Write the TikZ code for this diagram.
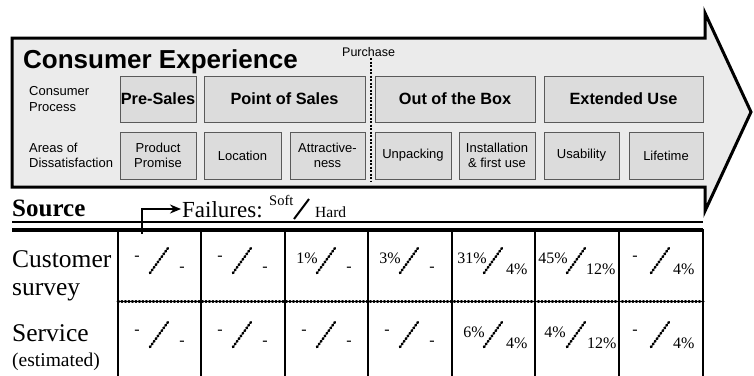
\documentclass[tikz,border=0pt]{standalone}
\usepackage{fontspec}
\setmainfont{Liberation Serif}
\newfontfamily\sansf{Liberation Sans}
\usetikzlibrary{arrows.meta}
\definecolor{bodygray}{HTML}{EBEBEB}
\definecolor{boxgray}{HTML}{DCDCDC}
\definecolor{edgegray}{HTML}{5A5A5A}
\newcommand{\fs}[1]{\fontsize{#1}{1.18\dimexpr#1pt\relax}\selectfont}
\tikzset{
  procbox/.style={draw=edgegray, fill=boxgray, line width=0.9pt, inner sep=0pt,
    minimum height=46pt, font=\sansf\bfseries\fs{16.3}},
  areabox/.style={draw=edgegray, fill=boxgray, line width=0.9pt, inner sep=0pt,
    minimum height=47pt, align=center, font=\sansf\fontsize{13}{15.5}\selectfont},
  sidelabel/.style={anchor=west, align=left, inner sep=0pt, font=\sansf\fontsize{13}{15.5}\selectfont},
  rowlabel/.style={anchor=base west, inner sep=0pt},
  gridline/.style={line width=2.5pt},
  dotline/.style={line width=3pt, line cap=round, dash pattern=on 0.8pt off 2.7pt},
  cellslash/.style={line width=2.6pt, line cap=round, dash pattern=on 0.9pt off 2.4pt},
  cellval/.style={inner sep=0pt, font=\fs{16}},
}
\begin{document}
\begin{tikzpicture}[x=1pt, y=-1pt]
\useasboundingbox (0,0) rectangle (754,375);

% big process arrow
\draw[line width=3pt, fill=bodygray, line join=miter]
  (12,38) -- (705,38) -- (705,13) -- (751,112) -- (705,211) -- (705,187) -- (12,187) -- cycle;

\node[anchor=base west, inner sep=0pt, font=\sansf\bfseries\fs{26}] (title) at (23,68) {Consumer Experience};
\node[anchor=base west, inner sep=0pt, font=\sansf\fs{12.5}] (purchase) at (342,56) {Purchase};
\coordinate (purchtop) at (371,58);
\coordinate (purchbot) at (371,181);
\draw[line width=1.6pt, dash pattern=on 2pt off 1.5pt] (purchtop) -- (purchbot);

\node[sidelabel] (proclbl) at (29,99) {Consumer\\Process};
\node[sidelabel] (arealbl) at (29,155.5) {Areas of\\Dissatisfaction};

% consumer process phases
\node[procbox, minimum width=76pt]  (presales) at (158,99)   {Pre-Sales};
\node[procbox, minimum width=161pt] (pos)      at (284.5,99) {Point of Sales};
\node[procbox, minimum width=160pt] (ootb)     at (455,99)   {Out of the Box};
\node[procbox, minimum width=159pt] (extuse)   at (623.5,99) {Extended Use};

% areas of dissatisfaction
\node[areabox, minimum width=76pt] (promise)  at (158,155.5)   {Product\\Promise};
\node[areabox, minimum width=77pt] (location) at (242.5,155.5) {Location};
\node[areabox, minimum width=75pt] (attract)  at (327.5,155.5) {Attractive-\\ness};
\node[areabox, minimum width=76pt] (unpack)   at (413,155.5)   {Unpacking};
\node[areabox, minimum width=76pt] (install)  at (497,155.5)   {Installation\\\& first use};
\node[areabox, minimum width=75pt] (usab)     at (581.5,155.5) {Usability};
\node[areabox, minimum width=74pt] (life)     at (666,155.5)   {Lifetime};

% source header
\node[rowlabel, font=\bfseries\fs{25}] (source) at (12,216) {Source};
\coordinate (elbowstart) at (142,234);
\coordinate (elbowend) at (181,209);
\draw[line width=2pt, -{Stealth[length=11pt, width=9pt]}] (elbowstart) |- (elbowend);
\node[rowlabel, font=\fs{23}] (failures) at (182,217) {Failures:};
\node[rowlabel, font=\fs{14.5}] (soft) at (269,205) {Soft};
\coordinate (slashlo) at (294,219);
\coordinate (slashhi) at (309,199);
\draw[line width=2pt] (slashlo) -- (slashhi);
\node[rowlabel, font=\fs{15.5}] (hard) at (315,217) {Hard};

\coordinate (rulel1) at (12,222);   \coordinate (ruler1) at (703,222);
\coordinate (rulel2) at (12,229.5); \coordinate (ruler2) at (703,229.5);
\draw[line width=2.5pt] (rulel1) -- (ruler1);
\draw[line width=4pt] (rulel2) -- (ruler2);

% table grid
\foreach \x in {118,201,285,368,452,535,619,703}
  \draw[gridline] (\x,229) -- (\x,377);
\coordinate (dotl) at (118,301);
\coordinate (dotr) at (703,301);
\draw[dotline] (dotl) -- (dotr);

% row labels
\node[rowlabel, font=\fs{25.5}] (cust1) at (12,267) {Customer};
\node[rowlabel, font=\fs{25.5}] (cust2) at (12,295) {survey};
\node[rowlabel, font=\fs{25.5}] (serv1) at (12,341) {Service};
\node[rowlabel, font=\fs{19.5}] (serv2) at (12,366) {(estimated)};

% cells: left edge, soft value (anchor, x offset), hard value (anchor, x offset)
\foreach \r/\yy in {1/0, 2/74} {
  \ifnum\r=1
    \def\cells{118/-/center/19/-/center/64, 201/-/center/19/-/center/64,
      285/1\%/east/33/-/center/64, 368/3\%/east/33/-/center/64,
      452/31\%/east/35/4\%/west/54, 535/45\%/east/33/12\%/west/51,
      619/-/center/16/4\%/west/54}
  \else
    \def\cells{118/-/center/19/-/center/64, 201/-/center/19/-/center/64,
      285/-/center/19/-/center/64, 368/-/center/19/-/center/64,
      452/6\%/east/33/4\%/west/54, 535/4\%/east/31/12\%/west/52,
      619/-/center/16/4\%/west/54}
  \fi
  \foreach \L/\s/\sa/\sx/\h/\ha/\hx [count=\i] in \cells {
    \draw[cellslash] (\L+32,273+\yy) -- (\L+50,248+\yy);
    \node[cellval, anchor=\sa] (soft\r\i) at (\L+\sx,258+\yy) {\s};
    \node[cellval, anchor=\ha] (hard\r\i) at (\L+\hx,269+\yy) {\h};
  }
}
\end{tikzpicture}
\end{document}
